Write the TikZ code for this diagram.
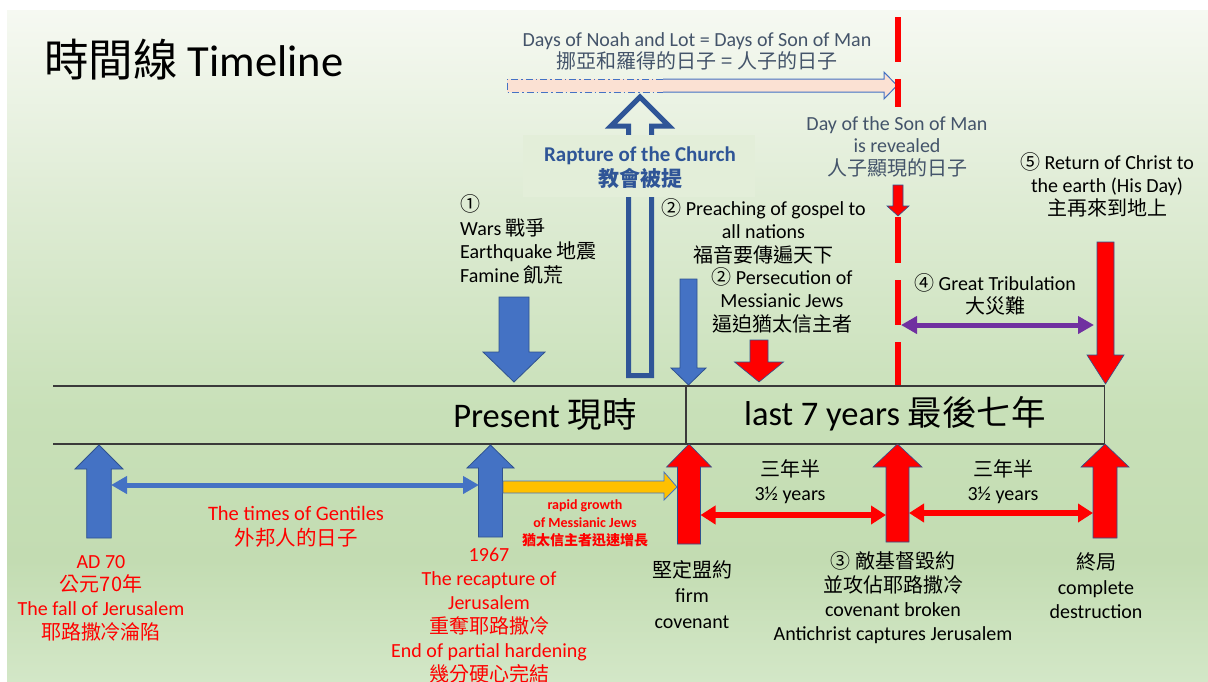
\documentclass[tikz,border=0pt]{standalone}
\usepackage{fontspec}
\setmainfont{Carlito}
\newfontfamily\cjk{Noto Sans CJK TC}
\usetikzlibrary{arrows.meta}
\definecolor{bgT}{HTML}{F6F9F2}
\definecolor{bgA}{HTML}{DFECD5}
\definecolor{bgB}{HTML}{C8E0B8}
\definecolor{bgC}{HTML}{C3DCB2}
\definecolor{bgD}{HTML}{D3E7C7}
\definecolor{boxbg}{HTML}{E3EED9}
\definecolor{bfill}{HTML}{4472C4}
\definecolor{bline}{HTML}{2F528F}
\definecolor{rapt}{HTML}{2F5597}
\definecolor{rfill}{HTML}{FF0000}
\definecolor{yfill}{HTML}{FFC000}
\definecolor{purp}{HTML}{7030A0}
\definecolor{gtext}{HTML}{44546A}
\definecolor{pinkfill}{HTML}{FBE1D3}
\definecolor{tline}{HTML}{3A3A3A}
\pgfdeclareverticalshading{slidebg}{100bp}{color(0bp)=(bgD); color(25bp)=(bgD); color(34bp)=(bgC); color(45bp)=(bgB); color(61bp)=(bgA); color(75bp)=(bgT); color(100bp)=(bgT)}
\newcommand{\zh}[1]{{\cjk #1}}
\newcommand{\blockarrow}[7]{\path[#1] (#2,#3) -- ({#2+#4},#6) -- ({#2+#5},#6) -- ({#2+#5},#7) -- ({#2-#5},#7) -- ({#2-#5},#6) -- ({#2-#4},#6) -- cycle;}
\tikzset{
  txt/.style={align=center, inner sep=0pt, font=\fontsize{20}{23.5}\selectfont},
  blktxt/.style={txt, text=black},
  redtxt/.style={txt, text=rfill},
  graytxt/.style={txt, text=gtext},
  bluearr/.style={fill=bfill, draw=bline, line width=0.8pt},
  redarr/.style={fill=rfill, draw=bline, line width=0.6pt},
  tl/.style={draw=tline, line width=1.8pt},
  dline/.style={draw=rfill, line width=5.5pt},
  bdouble/.style={draw=bfill, line width=5pt, {Triangle[length=16pt,width=17pt]}-{Triangle[length=16pt,width=17pt]}},
  rdouble/.style={draw=rfill, line width=6pt, {Triangle[length=15pt,width=18pt]}-{Triangle[length=15pt,width=18pt]}},
  pdouble/.style={draw=purp, line width=5pt, {Triangle[length=16pt,width=17pt]}-{Triangle[length=16pt,width=17pt]}},
}
\begin{document}
\begin{tikzpicture}[x=1pt,y=-1pt]
\useasboundingbox (0,0) rectangle (1208,681);
\fill[white] (0,0) rectangle (1208,681);
\shade[shading=slidebg] (7,10) rectangle (1208,681);

% title
\node[anchor=west, inner sep=0pt, font=\fontsize{44.5}{50}\selectfont, text=black] (title) at (44,60) {\zh{時間線} Timeline};

% days of Noah arrow
\fill[pinkfill] (507,79) -- (884,79) -- (884,72) -- (897,85.5) -- (884,99) -- (884,92) -- (507,92) -- cycle;
\draw[bfill, line width=1pt] (663,79) -- (884,79) -- (884,72) -- (897,85.5) -- (884,99) -- (884,92) -- (663,92);
\draw[bfill, line width=1pt, dash pattern=on 7pt off 3pt on 1.5pt off 3pt] (663,79) -- (507,79) -- (507,92) -- (663,92);
\node[graytxt, font=\fontsize{20}{22}\selectfont] (noah) at (697,51) {Days of Noah and Lot = Days of Son of Man\\ \zh{挪亞和羅得的日子 = 人子的日子}};

% red dashed line (Day of the Son of Man)
\draw[dline] (898,17) -- (898,62);
\draw[dline] (898,79) -- (898,107);
\draw[dline] (898,217) -- (898,263);
\draw[dline] (898,280) -- (898,325);
\draw[dline] (898,342) -- (898,386);
\node[graytxt, font=\fontsize{20}{22.5}\selectfont] (sonman) at (897,146.5) {Day of the Son of Man\\is revealed\\ \zh{人子顯現的日子}};
\blockarrow{redarr}{898}{216}{11}{5}{206}{185}

% rapture hollow arrow
\draw[rapt, line width=5pt, miter limit=10] (640,97) -- (669,126) -- (651.5,126) -- (651.5,375.5) -- (628.5,375.5) -- (628.5,126) -- (611,126) -- cycle;
\node[fill=boxbg, minimum width=232pt, minimum height=62pt, inner sep=0pt] (raptbox) at (639,166) {};
\node[txt, text=rapt, font=\fontsize{21}{25}\bfseries\selectfont] (rapture) at (640,167.5) {Rapture of the Church\\ \zh{教會被提}};

% group 1
\node[blktxt, align=left, anchor=west] (wars) at (460,239.5) {\zh{①}\\Wars \zh{戰爭}\\Earthquake \zh{地震}\\Famine \zh{飢荒}};
\blockarrow{bluearr}{514}{382}{31}{15}{352}{297}

% group 2
\node[blktxt] (preach) at (763.5,231) {\zh{②} Preaching of gospel to\\all nations\\ \zh{福音要傳遍天下}};
\node[blktxt] (persec) at (782,300) {\zh{②} Persecution of\\Messianic Jews\\ \zh{逼迫猶太信主者}};
\blockarrow{bluearr}{688.5}{385}{17.5}{8.5}{368}{279}
\blockarrow{redarr}{759}{382}{24.5}{9}{362}{340}

% return of Christ
\node[blktxt, font=\fontsize{20}{23}\selectfont] (return) at (1107,185) {\zh{⑤} Return of Christ to\\the earth (His Day)\\ \zh{主再來到地上}};
\blockarrow{redarr}{1105.5}{384}{18.5}{8.5}{355}{242}

% great tribulation
\node[blktxt, font=\fontsize{20}{23}\selectfont] (trib) at (995,294) {\zh{④} Great Tribulation\\ \zh{大災難}};
\coordinate (tribL) at (901,325);
\coordinate (tribR) at (1094,325);
\draw[pdouble] (tribL) -- (tribR);

% timeline band
\draw[tl] (53,386) -- (1105,386);
\draw[tl] (53,444) -- (1105,444);
\draw[draw=tline, line width=1.2pt] (686,386) -- (686,444);
\draw[draw=tline, line width=1.5pt] (1104.5,386) -- (1104.5,444);
\node[blktxt, font=\fontsize{34.5}{36}\selectfont] (present) at (545,414) {Present \zh{現時}};
\node[blktxt, font=\fontsize{34.5}{36}\selectfont] (last7) at (895,414) {last 7 years \zh{最後七年}};

% bottom arrows
\blockarrow{bluearr}{99}{445}{24}{12.3}{469}{538}
\blockarrow{bluearr}{490.5}{445}{23.5}{12}{468}{537}
\path[fill=yfill, draw=bfill, line width=0.8pt] (503,481) -- (664,481) -- (664,472) -- (677,487) -- (664,500) -- (664,493) -- (503,493) -- cycle;
\blockarrow{redarr}{689}{444}{22.5}{11.5}{467}{544}
\blockarrow{redarr}{897.5}{444}{24.5}{11.5}{467}{542}
\blockarrow{redarr}{1105}{444}{24}{12}{467}{538}

\coordinate (genL) at (111,485);
\coordinate (genR) at (479,485);
\draw[bdouble] (genL) -- (genR);
\coordinate (h1L) at (700.5,515);
\coordinate (h1R) at (886,515);
\draw[rdouble] (h1L) -- (h1R);
\coordinate (h2L) at (909,513);
\coordinate (h2R) at (1093,513);
\draw[rdouble] (h2L) -- (h2R);

% bottom texts
\node[redtxt, font=\fontsize{20.5}{25}\selectfont] (gentiles) at (296,527) {The times of Gentiles\\ \zh{外邦人的日子}};
\node[redtxt, font=\fontsize{14}{18}\bfseries\selectfont] (growth) at (585,523.5) {rapid growth\\of Messianic Jews\\ \zh{猶太信主者迅速增長}};
\node[blktxt, font=\fontsize{20}{24}\selectfont] (half1) at (790,482) {\zh{三年半}\\3½ years};
\node[blktxt, font=\fontsize{20}{24}\selectfont] (half2) at (1003,482) {\zh{三年半}\\3½ years};

\node[redtxt, font=\fontsize{20}{23.7}\selectfont] (ad70) at (101,598) {AD 70\\ \zh{公元70年}\\The fall of Jerusalem\\ \zh{耶路撒冷淪陷}};
\node[redtxt, font=\fontsize{20}{24}\selectfont, anchor=north] (y1967) at (489,548) {1967\\The recapture of\\Jerusalem\\ \zh{重奪耶路撒冷}\\End of partial hardening\\ \zh{幾分硬心完結}};
\node[blktxt, font=\fontsize{20}{25.5}\selectfont] (firm) at (692,594.5) {\zh{堅定盟約}\\firm\\covenant};
\node[blktxt, font=\fontsize{20}{24}\selectfont] (broken) at (893,598) {\zh{③ 敵基督毀約}\\ \zh{並攻佔耶路撒冷}\\covenant broken\\Antichrist captures Jerusalem};
\node[blktxt, font=\fontsize{20}{24.5}\selectfont] (end) at (1096,586) {\zh{終局}\\complete\\destruction};
\end{tikzpicture}
\end{document}
